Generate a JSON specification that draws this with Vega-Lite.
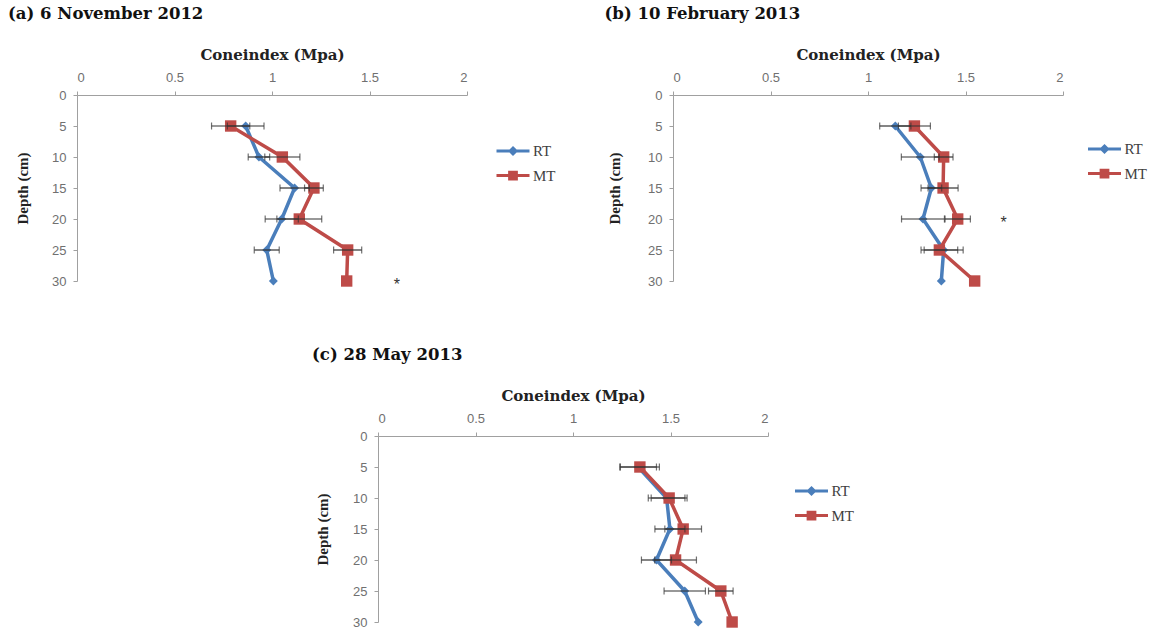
{
  "$schema": "https://vega.github.io/schema/vega-lite/v6.json",
  "background": "white",
  "padding": {"left": 8, "top": 5, "right": 0, "bottom": 0},
  "datasets": {
    "cone": [
      {"panel": "a", "series": "RT", "depth": 5, "ci": 0.865, "lo": 0.771, "hi": 0.959},
      {"panel": "a", "series": "RT", "depth": 10, "ci": 0.933, "lo": 0.878, "hi": 0.988},
      {"panel": "a", "series": "RT", "depth": 15, "ci": 1.116, "lo": 1.041, "hi": 1.191},
      {"panel": "a", "series": "RT", "depth": 20, "ci": 1.05, "lo": 0.965, "hi": 1.135},
      {"panel": "a", "series": "RT", "depth": 25, "ci": 0.973, "lo": 0.909, "hi": 1.037},
      {"panel": "a", "series": "RT", "depth": 30, "ci": 1.007, "lo": null, "hi": null},
      {"panel": "a", "series": "MT", "depth": 5, "ci": 0.788, "lo": 0.69, "hi": 0.886},
      {"panel": "a", "series": "MT", "depth": 10, "ci": 1.053, "lo": 0.963, "hi": 1.143},
      {"panel": "a", "series": "MT", "depth": 15, "ci": 1.215, "lo": 1.167, "hi": 1.263},
      {"panel": "a", "series": "MT", "depth": 20, "ci": 1.14, "lo": 1.025, "hi": 1.255},
      {"panel": "a", "series": "MT", "depth": 25, "ci": 1.388, "lo": 1.316, "hi": 1.46},
      {"panel": "a", "series": "MT", "depth": 30, "ci": 1.383, "lo": null, "hi": null},
      {"panel": "b", "series": "RT", "depth": 5, "ci": 1.14, "lo": 1.06, "hi": 1.22},
      {"panel": "b", "series": "RT", "depth": 10, "ci": 1.268, "lo": 1.171, "hi": 1.365},
      {"panel": "b", "series": "RT", "depth": 15, "ci": 1.325, "lo": 1.272, "hi": 1.378},
      {"panel": "b", "series": "RT", "depth": 20, "ci": 1.282, "lo": 1.172, "hi": 1.392},
      {"panel": "b", "series": "RT", "depth": 25, "ci": 1.388, "lo": 1.288, "hi": 1.488},
      {"panel": "b", "series": "RT", "depth": 30, "ci": 1.376, "lo": null, "hi": null},
      {"panel": "b", "series": "MT", "depth": 5, "ci": 1.238, "lo": 1.156, "hi": 1.32},
      {"panel": "b", "series": "MT", "depth": 10, "ci": 1.388, "lo": 1.34, "hi": 1.436},
      {"panel": "b", "series": "MT", "depth": 15, "ci": 1.385, "lo": 1.308, "hi": 1.462},
      {"panel": "b", "series": "MT", "depth": 20, "ci": 1.46, "lo": 1.395, "hi": 1.525},
      {"panel": "b", "series": "MT", "depth": 25, "ci": 1.366, "lo": 1.272, "hi": 1.46},
      {"panel": "b", "series": "MT", "depth": 30, "ci": 1.547, "lo": null, "hi": null},
      {"panel": "c", "series": "RT", "depth": 5, "ci": 1.334, "lo": 1.24, "hi": 1.428},
      {"panel": "c", "series": "RT", "depth": 10, "ci": 1.48, "lo": 1.386, "hi": 1.574},
      {"panel": "c", "series": "RT", "depth": 15, "ci": 1.497, "lo": 1.42, "hi": 1.574},
      {"panel": "c", "series": "RT", "depth": 20, "ci": 1.428, "lo": 1.351, "hi": 1.505},
      {"panel": "c", "series": "RT", "depth": 25, "ci": 1.573, "lo": 1.467, "hi": 1.679},
      {"panel": "c", "series": "RT", "depth": 30, "ci": 1.642, "lo": null, "hi": null},
      {"panel": "c", "series": "MT", "depth": 5, "ci": 1.343, "lo": 1.243, "hi": 1.443},
      {"panel": "c", "series": "MT", "depth": 10, "ci": 1.493, "lo": 1.401, "hi": 1.585},
      {"panel": "c", "series": "MT", "depth": 15, "ci": 1.565, "lo": 1.471, "hi": 1.659},
      {"panel": "c", "series": "MT", "depth": 20, "ci": 1.526, "lo": 1.419, "hi": 1.633},
      {"panel": "c", "series": "MT", "depth": 25, "ci": 1.758, "lo": 1.695, "hi": 1.821},
      {"panel": "c", "series": "MT", "depth": 30, "ci": 1.816, "lo": null, "hi": null}
    ],
    "stars": [
      {"panel": "a", "ci": 1.64, "depth": 30},
      {"panel": "b", "ci": 1.696, "depth": 20}
    ]
  },
  "config": {
    "view": {"stroke": null},
    "font": "Liberation Sans",
    "axis": {
      "domainColor": "#a0a0a0", "tickColor": "#a0a0a0", "tickSize": 4, "domainWidth": 1, "tickWidth": 1,
      "labelColor": "#707070", "labelFont": "Liberation Sans", "labelFontSize": 13, "labelPadding": 7,
      "titleFontWeight": "bold", "titleColor": "#222222",
      "grid": false
    },
    "axisTop": {"titlePadding": 9, "titleFont": "DejaVu Serif", "titleFontSize": 15},
    "axisLeft": {"titlePadding": 21.5, "titleFont": "Liberation Serif", "titleFontSize": 15},
    "title": {"font": "DejaVu Serif", "fontSize": 16.5, "fontWeight": "bold", "anchor": "start", "frame": "bounds", "color": "#111111", "offset": 25},
    "legend": {
      "symbolSize": 225, "symbolStrokeWidth": 3, "labelOffset": 11, "rowPadding": 5.5, "padding": 0,
      "labelFont": "Liberation Serif", "labelFontSize": 15, "labelColor": "#404040", "symbolOpacity": 1
    }
  },
  "spacing": 53,
  "resolve": {"scale": {"fill": "independent", "stroke": "independent", "shape": "independent"}, "legend": {"fill": "independent", "stroke": "independent", "shape": "independent"}},
  "vconcat": [
    {
      "spacing": 48,
      "resolve": {"scale": {"fill": "independent", "stroke": "independent", "shape": "independent"}, "legend": {"fill": "independent", "stroke": "independent", "shape": "independent"}},
      "hconcat": [
        {
          "width": 390, "height": 186,
          "title": {"text": "(a) 6 November 2012", "dx": -7},
          "data": {"name": "cone"},
          "transform": [{"filter": "datum.panel == 'a'"}],
          "encoding": {
            "x": {"field": "ci", "type": "quantitative", "title": "Coneindex (Mpa)", "scale": {"domain": [0, 2], "nice": false}, "axis": {"orient": "top", "values": [0, 0.5, 1, 1.5, 2], "format": "~g"}},
            "y": {"field": "depth", "type": "quantitative", "title": "Depth (cm)", "scale": {"domain": [0, 30], "reverse": true, "nice": false}, "axis": {"values": [0, 5, 10, 15, 20, 25, 30]}}
          },
          "layer": [
            {"transform": [{"filter": "datum.series == 'RT'"}], "mark": {"type": "line", "color": "#4a7ebb", "strokeWidth": 3.5}, "encoding": {"order": {"field": "depth", "type": "quantitative"}}},
            {"transform": [{"filter": "datum.series == 'RT'"}], "mark": {"type": "point", "shape": "diamond", "filled": true, "color": "#4a7ebb", "size": 80, "opacity": 1}},
            {"transform": [{"filter": "datum.series == 'MT'"}], "mark": {"type": "line", "color": "#be4b48", "strokeWidth": 3.5}, "encoding": {"order": {"field": "depth", "type": "quantitative"}}},
            {"transform": [{"filter": "datum.series == 'MT'"}], "mark": {"type": "point", "shape": "square", "filled": true, "color": "#be4b48", "size": 130, "opacity": 1}},
            {"transform": [{"filter": {"field": "lo", "valid": true}}], "mark": {"type": "errorbar", "ticks": {"size": 7}, "color": "#333333", "thickness": 1.2}, "encoding": {"x": {"field": "lo", "type": "quantitative", "title": "Coneindex (Mpa)"}, "x2": {"field": "hi"}}},
            {"transform": [{"filter": "false"}], "mark": {"type": "point", "filled": true, "size": 225, "strokeWidth": 3, "opacity": 1},
             "encoding": {
               "fill": {"field": "series", "type": "nominal", "scale": {"domain": ["RT", "MT"], "range": ["#4a7ebb", "#be4b48"]}, "legend": {"orient": "none", "legendX": 427, "legendY": 47, "title": null}},
               "stroke": {"field": "series", "type": "nominal", "scale": {"domain": ["RT", "MT"], "range": ["#4a7ebb", "#be4b48"]}, "legend": {"orient": "none", "legendX": 427, "legendY": 47, "title": null}},
               "shape": {"field": "series", "type": "nominal", "scale": {"domain": ["RT", "MT"], "range": ["M-2.2,0H2.2M0,-0.4L0.4,0L0,0.4L-0.4,0Z", "M-2.2,0H2.2M-0.45,-0.45H0.45V0.45H-0.45Z"]}, "legend": {"orient": "none", "legendX": 427, "legendY": 47, "title": null}}
             }},
            {"data": {"name": "stars"}, "transform": [{"filter": "datum.panel == 'a'"}], "mark": {"type": "text", "text": "*", "fontSize": 16, "color": "#333333", "dy": 4}}
          ]
        },
        {
          "width": 390, "height": 186,
          "title": {"text": "(b) 10 February 2013", "dx": -3},
          "data": {"name": "cone"},
          "transform": [{"filter": "datum.panel == 'b'"}],
          "encoding": {
            "x": {"field": "ci", "type": "quantitative", "title": "Coneindex (Mpa)", "scale": {"domain": [0, 2], "nice": false}, "axis": {"orient": "top", "values": [0, 0.5, 1, 1.5, 2], "format": "~g"}},
            "y": {"field": "depth", "type": "quantitative", "title": "Depth (cm)", "scale": {"domain": [0, 30], "reverse": true, "nice": false}, "axis": {"values": [0, 5, 10, 15, 20, 25, 30], "titlePadding": 25}}
          },
          "layer": [
            {"transform": [{"filter": "datum.series == 'RT'"}], "mark": {"type": "line", "color": "#4a7ebb", "strokeWidth": 3.5}, "encoding": {"order": {"field": "depth", "type": "quantitative"}}},
            {"transform": [{"filter": "datum.series == 'RT'"}], "mark": {"type": "point", "shape": "diamond", "filled": true, "color": "#4a7ebb", "size": 80, "opacity": 1}},
            {"transform": [{"filter": "datum.series == 'MT'"}], "mark": {"type": "line", "color": "#be4b48", "strokeWidth": 3.5}, "encoding": {"order": {"field": "depth", "type": "quantitative"}}},
            {"transform": [{"filter": "datum.series == 'MT'"}], "mark": {"type": "point", "shape": "square", "filled": true, "color": "#be4b48", "size": 130, "opacity": 1}},
            {"transform": [{"filter": {"field": "lo", "valid": true}}], "mark": {"type": "errorbar", "ticks": {"size": 7}, "color": "#333333", "thickness": 1.2}, "encoding": {"x": {"field": "lo", "type": "quantitative", "title": "Coneindex (Mpa)"}, "x2": {"field": "hi"}}},
            {"transform": [{"filter": "false"}], "mark": {"type": "point", "filled": true, "size": 225, "strokeWidth": 3, "opacity": 1},
             "encoding": {
               "fill": {"field": "series", "type": "nominal", "scale": {"domain": ["RT", "MT"], "range": ["#4a7ebb", "#be4b48"]}, "legend": {"orient": "none", "legendX": 422.5, "legendY": 45, "title": null}},
               "stroke": {"field": "series", "type": "nominal", "scale": {"domain": ["RT", "MT"], "range": ["#4a7ebb", "#be4b48"]}, "legend": {"orient": "none", "legendX": 422.5, "legendY": 45, "title": null}},
               "shape": {"field": "series", "type": "nominal", "scale": {"domain": ["RT", "MT"], "range": ["M-2.2,0H2.2M0,-0.4L0.4,0L0,0.4L-0.4,0Z", "M-2.2,0H2.2M-0.45,-0.45H0.45V0.45H-0.45Z"]}, "legend": {"orient": "none", "legendX": 422.5, "legendY": 45, "title": null}}
             }},
            {"data": {"name": "stars"}, "transform": [{"filter": "datum.panel == 'b'"}], "mark": {"type": "text", "text": "*", "fontSize": 16, "color": "#333333", "dy": 4}}
          ]
        }
      ]
    },
    {
      "spacing": 14,
      "resolve": {"scale": {"fill": "independent", "stroke": "independent", "shape": "independent"}, "legend": {"fill": "independent", "stroke": "independent", "shape": "independent"}},
      "hconcat": [
        {"width": 220.5, "height": 10, "data": {"values": [{"s": ""}]}, "mark": {"type": "text", "text": ""}, "encoding": {}},
        {
          "width": 390, "height": 186,
          "title": {"text": "(c) 28 May 2013", "dx": -3},
          "data": {"name": "cone"},
          "transform": [{"filter": "datum.panel == 'c'"}],
          "encoding": {
            "x": {"field": "ci", "type": "quantitative", "title": "Coneindex (Mpa)", "scale": {"domain": [0, 2], "nice": false}, "axis": {"orient": "top", "values": [0, 0.5, 1, 1.5, 2], "format": "~g"}},
            "y": {"field": "depth", "type": "quantitative", "title": "Depth (cm)", "scale": {"domain": [0, 30], "reverse": true, "nice": false}, "axis": {"values": [0, 5, 10, 15, 20, 25, 30], "titlePadding": 22.5}}
          },
          "layer": [
            {"transform": [{"filter": "datum.series == 'RT'"}], "mark": {"type": "line", "color": "#4a7ebb", "strokeWidth": 3.5}, "encoding": {"order": {"field": "depth", "type": "quantitative"}}},
            {"transform": [{"filter": "datum.series == 'RT'"}], "mark": {"type": "point", "shape": "diamond", "filled": true, "color": "#4a7ebb", "size": 80, "opacity": 1}},
            {"transform": [{"filter": "datum.series == 'MT'"}], "mark": {"type": "line", "color": "#be4b48", "strokeWidth": 3.5}, "encoding": {"order": {"field": "depth", "type": "quantitative"}}},
            {"transform": [{"filter": "datum.series == 'MT'"}], "mark": {"type": "point", "shape": "square", "filled": true, "color": "#be4b48", "size": 130, "opacity": 1}},
            {"transform": [{"filter": {"field": "lo", "valid": true}}], "mark": {"type": "errorbar", "ticks": {"size": 7}, "color": "#333333", "thickness": 1.2}, "encoding": {"x": {"field": "lo", "type": "quantitative", "title": "Coneindex (Mpa)"}, "x2": {"field": "hi"}}},
            {"transform": [{"filter": "false"}], "mark": {"type": "point", "filled": true, "size": 225, "strokeWidth": 3, "opacity": 1},
             "encoding": {
               "fill": {"field": "series", "type": "nominal", "scale": {"domain": ["RT", "MT"], "range": ["#4a7ebb", "#be4b48"]}, "legend": {"orient": "none", "legendX": 424.5, "legendY": 46, "title": null}},
               "stroke": {"field": "series", "type": "nominal", "scale": {"domain": ["RT", "MT"], "range": ["#4a7ebb", "#be4b48"]}, "legend": {"orient": "none", "legendX": 424.5, "legendY": 46, "title": null}},
               "shape": {"field": "series", "type": "nominal", "scale": {"domain": ["RT", "MT"], "range": ["M-2.2,0H2.2M0,-0.4L0.4,0L0,0.4L-0.4,0Z", "M-2.2,0H2.2M-0.45,-0.45H0.45V0.45H-0.45Z"]}, "legend": {"orient": "none", "legendX": 424.5, "legendY": 46, "title": null}}
             }}
          ]
        }
      ]
    }
  ]
}
